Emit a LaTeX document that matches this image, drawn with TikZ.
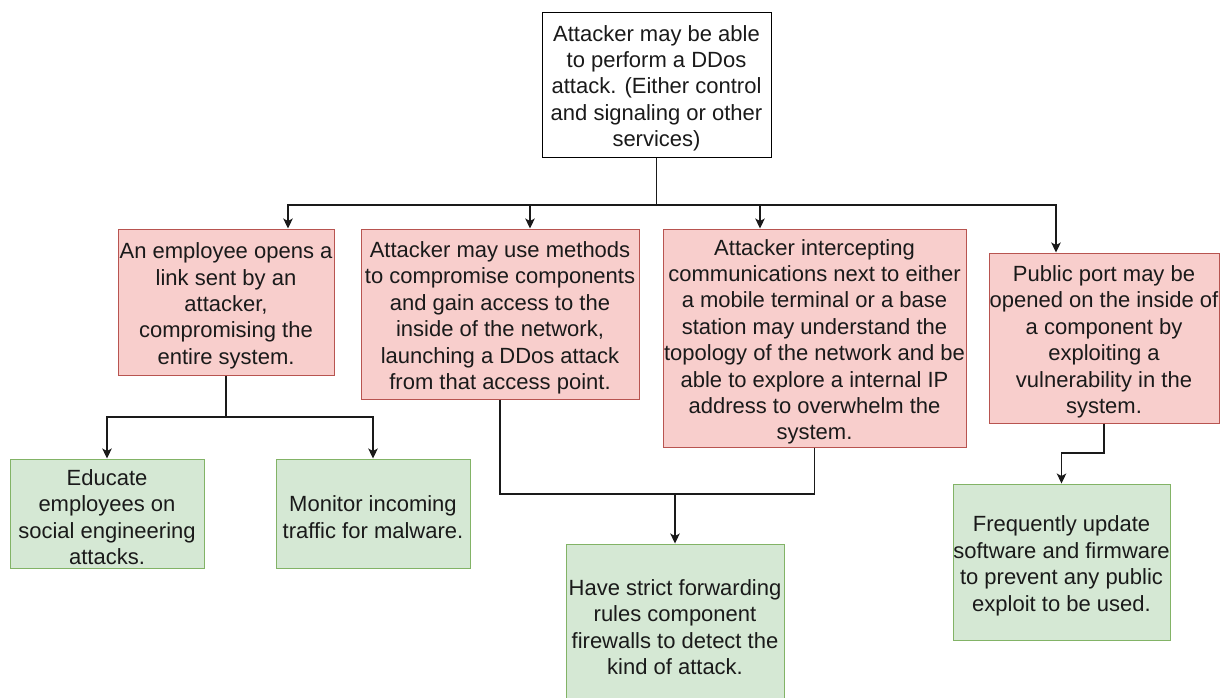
\documentclass[tikz,border=0pt]{standalone}
\usepackage{fontspec}
\setmainfont{Liberation Sans}
\usetikzlibrary{arrows.meta}
\definecolor{redfill}{HTML}{F8CECC}
\definecolor{reddraw}{HTML}{B85450}
\definecolor{greenfill}{HTML}{D5E8D4}
\definecolor{greendraw}{HTML}{82B366}
\definecolor{ink}{HTML}{1A1A1A}
% taller first line pushes each text block slightly down
\newcommand\topgap{\rule{0pt}{23.5pt}}
\tikzset{
  box/.style={rectangle, inner sep=0pt, align=center, text=ink,
    font=\fontsize{22}{26.4}\selectfont, line width=1pt},
  rootbox/.style={box, draw=black, fill=white},
  threat/.style={box, draw=reddraw, fill=redfill},
  fix/.style={box, draw=greendraw, fill=greenfill},
  link/.style={draw=ink, line width=1.2pt,
    -{Stealth[length=10pt,width=9.5pt,inset=2.5pt]}},
  plain/.style={draw=ink, line width=1.2pt}
}
\begin{document}
\begin{tikzpicture}[x=1pt,y=-1pt]
\useasboundingbox (0,0) rectangle (1225,697);
\fill[white] (0,0) rectangle (1225,697);

% root
\node[rootbox, minimum width=229, minimum height=145] (root) at (656.5,84.5)
  {\topgap Attacker may be able\\to perform a DDos\\attack. (Either control\\and signaling or other\\services)};

% threats
\node[threat, minimum width=216, minimum height=146] (r1) at (226,302)
  {\topgap An employee opens a\\link sent by an\\attacker,\\compromising the\\entire system.};
\node[threat, minimum width=278, minimum height=170] (r2) at (500,314)
  {\topgap Attacker may use methods\\to compromise components\\and gain access to the\\inside of the network,\\launching a DDos attack\\from that access point.};
\node[threat, minimum width=303, minimum height=218] (r3) at (814.5,338)
  {\topgap Attacker intercepting\\communications next to either\\a mobile terminal or a base\\station may understand the\\topology of the network and be\\able to explore a internal IP\\address to overwhelm the\\system.};
\node[threat, minimum width=230, minimum height=170] (r4) at (1104,338)
  {\topgap Public port may be\\opened on the inside of\\a component by\\exploiting a\\vulnerability in the\\system.};

% mitigations
\node[fix, minimum width=194, minimum height=109] (g1) at (107,513.5)
  {\topgap Educate\\employees on\\social engineering\\attacks.};
\node[fix, minimum width=194, minimum height=109] (g2) at (373,513.5)
  {\topgap Monitor incoming\\traffic for malware.};
\node[fix, minimum width=218, minimum height=159] (g3) at (675,623.5)
  {\topgap Have strict forwarding\\rules component\\firewalls to detect the\\kind of attack.};
\node[fix, minimum width=217, minimum height=156] (g4) at (1061.5,562)
  {\topgap Frequently update\\software and firmware\\to prevent any public\\exploit to be used.};

% bus below the root
\coordinate (bus) at (656.5,205);
\draw[plain, line width=1.8pt] (root.south) -- (bus);
\draw[link] (bus) -| ([xshift=62pt]r1.north);
\draw[link] (bus) -| ([xshift=30pt]r2.north);
\draw[link] (bus) -| ([xshift=-54.5pt]r3.north);
\draw[link] (bus) -| ([xshift=-48pt]r4.north);

% first threat to its mitigations
\coordinate (split1) at (226,417);
\draw[plain] (r1.south) -- (split1);
\draw[link] (split1) -| (g1.north);
\draw[link] (split1) -| (g2.north);

% second and third threats merge into one mitigation
\coordinate (merge) at (675,494);
\draw[plain] (r2.south) |- (merge);
\draw[plain] (r3.south) |- (merge);
\draw[link] (merge) -- (g3.north);

% fourth threat
\coordinate (bend4) at (1104,453);
\draw[link] (r4.south) -- (bend4) -| (g4.north);
\end{tikzpicture}
\end{document}
